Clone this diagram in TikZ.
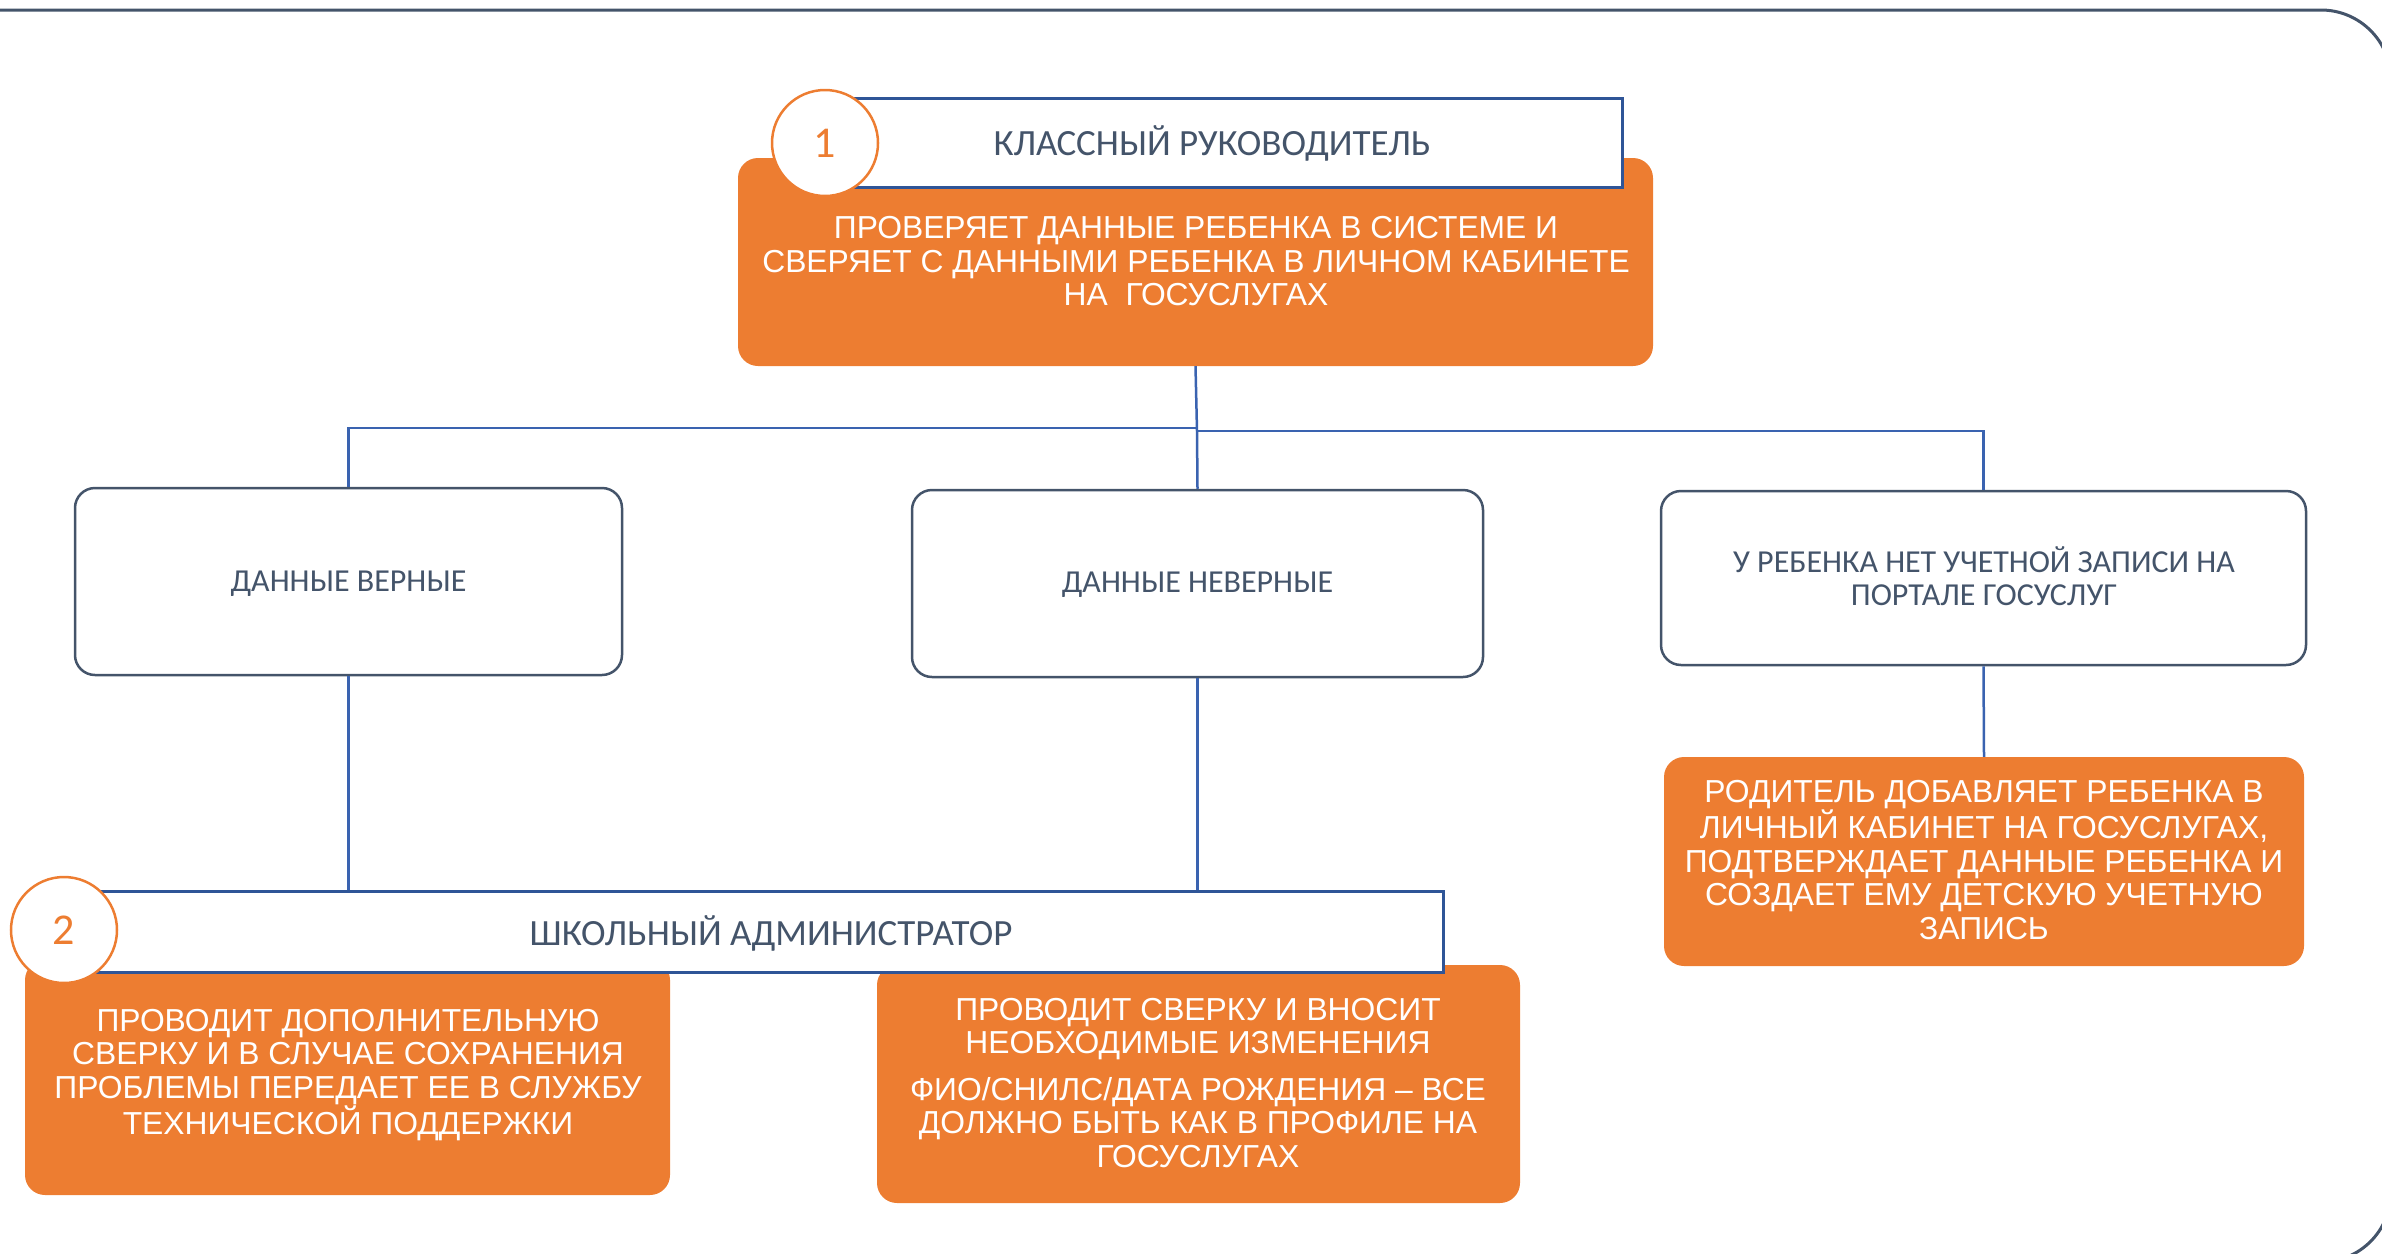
\documentclass[tikz,border=0pt]{standalone}
\usepackage{fontspec}
\setmainfont{Liberation Sans}
\newfontfamily\calfont{Carlito}
\newfontfamily\arifont{Liberation Sans}
\definecolor{orng}{HTML}{ED7D31}
\definecolor{slate}{HTML}{44546A}
\definecolor{lblue}{HTML}{3A63B0}
\definecolor{hblue}{HTML}{2F5597}
\tikzset{
  conn/.style={draw=lblue, line width=2.5pt},
  frame/.style={draw=slate, line width=3pt},
  obox/.style={fill=orng, rounded corners=20pt, inner sep=0pt},
  wbox/.style={draw=slate, line width=2.5pt, fill=white, rounded corners=20pt, inner sep=0pt},
  hbox/.style={draw=hblue, line width=3pt, fill=white, inner sep=0pt},
  numc/.style={circle, draw=orng, line width=2.5pt, fill=white, minimum size=106pt, inner sep=0pt, text=orng, font=\calfont\fontsize{44}{44}\selectfont},
  wtxt/.style={text=white, align=center, font=\arifont\fontsize{31.8}{33.5}\selectfont, inner sep=0pt},
  dtxt/.style={text=slate, align=center, font=\calfont\fontsize{32}{33}\selectfont, inner sep=0pt},
  htxt/.style={text=slate, align=center, font=\calfont\fontsize{37}{40}\selectfont, inner sep=0pt},
}
\begin{document}
\begin{tikzpicture}[x=1pt, y=-1pt]
\useasboundingbox (0,0) rectangle (2382,1253);
\clip (0,0) rectangle (2382,1253);
% outer frame
\draw[frame, rounded corners=70pt] (-100,10) rectangle (2391,1262);

% top block
\node[obox, minimum width=915pt, minimum height=208pt] (o1) at (1195.5,262) {};
\node[wtxt] (o1t) at (1196,261.5) {ПРОВЕРЯЕТ ДАННЫЕ РЕБЕНКА В СИСТЕМЕ И\\СВЕРЯЕТ С ДАННЫМИ РЕБЕНКА В ЛИЧНОМ КАБИНЕТЕ\\НА~~ГОСУСЛУГАХ};
\node[hbox, minimum width=792pt, minimum height=89pt] (h1) at (1226,142.5) {};
\node[htxt] (h1t) at (1212,143) {КЛАССНЫЙ РУКОВОДИТЕЛЬ};
\node[numc] (c1) at (825,143) {1};

% middle boxes
\node[wbox, minimum width=547pt, minimum height=187pt] (bA) at (348.5,581.5) {};
\node[dtxt] (bAt) at (348.5,584) {ДАННЫЕ ВЕРНЫЕ};
\node[wbox, minimum width=571pt, minimum height=187pt] (bB) at (1197.5,583.5) {};
\node[dtxt] (bBt) at (1197.5,585) {ДАННЫЕ НЕВЕРНЫЕ};
\node[wbox, minimum width=645pt, minimum height=174pt] (bC) at (1983.5,578) {};
\node[dtxt] (bCt) at (1984,576) {У РЕБЕНКА НЕТ УЧЕТНОЙ ЗАПИСИ НА\\ПОРТАЛЕ ГОСУСЛУГ};

% right orange
\node[obox, minimum width=640pt, minimum height=209pt] (oC) at (1984,861.5) {};
\node[wtxt] (oCt) at (1984,860) {РОДИТЕЛЬ ДОБАВЛЯЕТ РЕБЕНКА В\\ЛИЧНЫЙ КАБИНЕТ НА ГОСУСЛУГАХ,\\ПОДТВЕРЖДАЕТ ДАННЫЕ РЕБЕНКА И\\СОЗДАЕТ ЕМУ ДЕТСКУЮ УЧЕТНУЮ\\ЗАПИСЬ};

% bottom block
\node[obox, minimum width=645pt, minimum height=235pt] (oL) at (347.5,1077.5) {};
\node[wtxt] (oLt) at (348,1075) {ПРОВОДИТ ДОПОЛНИТЕЛЬНУЮ\\СВЕРКУ И В СЛУЧАЕ СОХРАНЕНИЯ\\ПРОБЛЕМЫ ПЕРЕДАЕТ ЕЕ В СЛУЖБУ\\ТЕХНИЧЕСКОЙ ПОДДЕРЖКИ};
\node[obox, minimum width=643pt, minimum height=238pt] (oR) at (1198.5,1084) {};
\node[wtxt] (oRt) at (1198,1083) {ПРОВОДИТ СВЕРКУ И ВНОСИТ\\НЕОБХОДИМЫЕ ИЗМЕНЕНИЯ\\[13pt]ФИО/СНИЛС/ДАТА РОЖДЕНИЯ – ВСЕ\\ДОЛЖНО БЫТЬ КАК В ПРОФИЛЕ НА\\ГОСУСЛУГАХ};
\node[hbox, minimum width=1370pt, minimum height=81pt] (h2) at (758,931.5) {};
\node[htxt] (h2t) at (771,933) {ШКОЛЬНЫЙ АДМИНИСТРАТОР};
\node[numc] (c2) at (64,930) {2};

% connectors
\coordinate (jL) at (1197,428);
\coordinate (jR) at (1197,431);
\draw[conn] (o1.south) -- (jR);
\draw[conn] (jL) -| (bA.north);
\draw[conn] (jR) -| (bC.north);
\draw[conn] (jR) -- (bB.north);
\draw[conn] (bA.south) -- (bA.south |- h2.north);
\draw[conn] (bB.south) -- (bB.south |- h2.north);
\draw[conn] (bC.south) -- (oC.north);
\end{tikzpicture}
\end{document}
